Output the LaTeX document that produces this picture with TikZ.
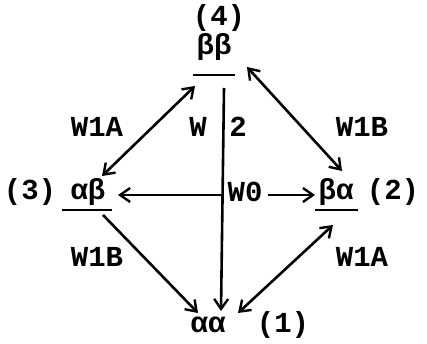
\documentclass[tikz,border=0pt]{standalone}
\usepackage{fontspec}
\setmonofont{Liberation Mono}
\usetikzlibrary{arrows.meta}
\begin{document}
\begin{tikzpicture}[x=1pt,y=-1pt,
  lbl/.style={font=\ttfamily\bfseries\fontsize{29}{29}\selectfont, inner sep=0pt, anchor=center},
  conn/.style={line width=2.6pt, -{Straight Barb[length=10pt,width=14pt,line width=2.4pt]}},
  dconn/.style={line width=2.6pt, {Straight Barb[length=10pt,width=14pt,line width=2.4pt]}-{Straight Barb[length=10pt,width=14pt,line width=2.4pt]}},
  uline/.style={line width=2.4pt}]
\useasboundingbox (0,0) rectangle (427,344);
% state labels
\node[lbl] (n4) at (219,18) {(4)};
\node[lbl] (bb) at (214,47) {ββ};
\node[lbl] (n3) at (30,192) {(3)};
\node[lbl] (ab) at (88,192) {αβ};
\node[lbl] (ba) at (336,192) {βα};
\node[lbl] (n2) at (393,192) {(2)};
\node[lbl] (aa) at (208,325) {αα};
\node[lbl] (n1) at (283,325) {(1)};
% rate labels
\node[lbl] (w1a) at (97,127) {W1A};
\node[lbl] (w1b) at (362,127) {W1B};
\node[lbl] (w) at (198,127) {W};
\node[lbl] (two) at (238,127) {2};
\node[lbl] (w0) at (245,192) {W0};
\node[lbl] (w1bl) at (97,257) {W1B};
\node[lbl] (w1al) at (362,257) {W1A};
% underlines
\draw[uline] (193,75) -- (235,75);
\draw[uline] (62,210) -- (112,210);
\draw[uline] (315,210) -- (358,210);
% connector end points
\coordinate (bbL) at (195,86);
\coordinate (bbR) at (247,67);
\coordinate (bbD) at (224,88);
\coordinate (abU) at (102,176);
\coordinate (abR) at (118,195);
\coordinate (abD) at (103,215);
\coordinate (baU) at (342,171);
\coordinate (baL) at (315,195);
\coordinate (baD) at (333,225);
\coordinate (aaU) at (221,311);
\coordinate (aaL) at (198,313);
\coordinate (aaR) at (238,313);
\coordinate (mid) at (223,195);
\coordinate (w0e) at (268,195);
% connectors
\draw[dconn] (abU) -- (bbL);
\draw[dconn] (bbR) -- (baU);
\draw[conn] (bbD) -- (aaU);
\draw[conn] (mid) -- (abR);
\draw[conn] (w0e) -- (baL);
\draw[conn] (abD) -- (aaL);
\draw[dconn] (aaR) -- (baD);
\end{tikzpicture}
\end{document}
